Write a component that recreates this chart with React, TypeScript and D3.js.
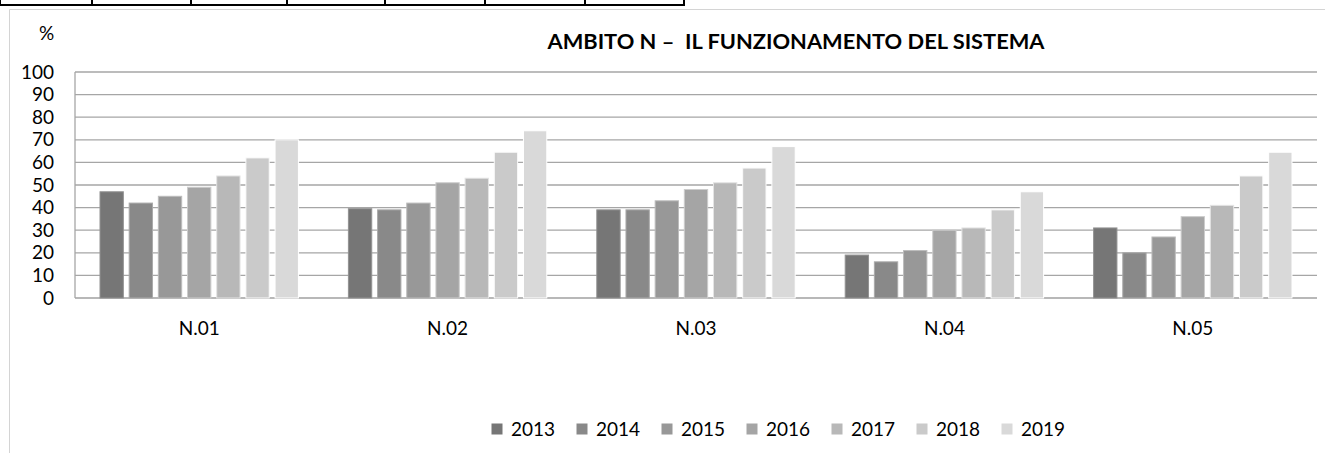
import React from "react";
import * as d3 from "d3";

const categories = ["N.01", "N.02", "N.03", "N.04", "N.05"];
const years = ["2013", "2014", "2015", "2016", "2017", "2018", "2019"];
const v2013 = [47, 39.5, 39, 19, 31];
const v2014 = [42, 39, 39, 16, 20];
const v2015 = [45, 42, 43, 21, 27];
const v2016 = [49, 51, 48, 30, 36];
const v2017 = [54, 53, 51, 31, 41];
const v2018 = [62, 64.5, 57.5, 39, 54];
const v2019 = [70, 74, 67, 47, 64.5];
const seriesValues = [v2013, v2014, v2015, v2016, v2017, v2018, v2019];
const yTicks = [0, 10, 20, 30, 40, 50, 60, 70, 80, 90, 100];
const colors = ["#767676", "#898989", "#989898", "#a5a5a5", "#b8b8b8", "#cacaca", "#d9d9d9"];
const tableCols = [0, 92, 191, 287, 385, 485, 585, 684];
const title = "AMBITO N \u2013 \u00a0IL FUNZIONAMENTO DEL SISTEMA";

const W = 1325;
const H = 453;
const FONT = "Lato, 'Open Sans', sans-serif";

export default function App() {
  const left = 75;
  const right = 1317;
  const top = 72;
  const bottom = 298;

  const x0 = d3.scaleBand<string>().domain(categories).range([left, right]).padding(0);
  const gw = x0.bandwidth();
  const x1 = d3
    .scaleBand<string>()
    .domain(years)
    .range([25, gw - 25])
    .paddingInner(0.2)
    .paddingOuter(0);
  const y = d3.scaleLinear().domain([0, 100]).range([bottom, top]);

  return (
    <svg
      width={W}
      height={H}
      style={{ position: "fixed", left: 0, top: 0, background: "#fff" }}
      fontFamily={FONT}
    >
      {/* table remnant on top */}
      <line x1={0} x2={685} y1={5} y2={5} stroke="#000" strokeWidth={2} />
      {tableCols.map((cx, i) => (
        <line key={i} x1={cx} x2={cx} y1={0} y2={5} stroke="#000" strokeWidth={2} />
      ))}

      {/* chart frame */}
      <path d={`M9.5,${H} V9.5 H${W}`} fill="none" stroke="#d4d4d4" strokeWidth={1} />

      <text x={46.5} y={40} fontSize={19} textAnchor="middle" fill="#000">%</text>
      <text
        x={796}
        y={49}
        fontSize={20.5}
        fontWeight="bold"
        textAnchor="middle"
        fill="#000"
        textLength={497}
        lengthAdjust="spacingAndGlyphs"
      >
        {title}
      </text>

      {/* gridlines */}
      {yTicks.map((t) => (
        <line
          key={t}
          x1={left}
          x2={right}
          y1={y(t)}
          y2={y(t)}
          stroke={t === 0 ? "#a0a0a0" : "#a6a6a6"}
          strokeWidth={1.3}
        />
      ))}
      <line x1={left} x2={left} y1={top} y2={bottom} stroke="#a6a6a6" strokeWidth={1.3} />

      {/* y tick labels */}
      {yTicks.map((t) => (
        <text key={t} x={54} y={y(t) + 6.5} fontSize={19} textAnchor="end" fill="#000">
          {t}
        </text>
      ))}

      {/* bars */}
      {categories.map((c, ci) => (
        <g key={c} transform={`translate(${x0(c)},0)`}>
          {years.map((yr, si) => {
            const v = seriesValues[si][ci];
            return (
              <rect
                key={yr}
                x={x1(yr)}
                y={y(v)}
                width={x1.bandwidth()}
                height={y(0) - y(v)}
                fill={colors[si]}
                stroke={d3.color(colors[si])!.brighter(0.6).formatHex()}
                strokeWidth={1}
              />
            );
          })}
        </g>
      ))}

      {/* category labels */}
      {categories.map((c) => (
        <text
          key={c}
          x={(x0(c) as number) + gw / 2}
          y={334.5}
          fontSize={19}
          textAnchor="middle"
          fill="#000"
        >
          {c}
        </text>
      ))}

      {/* legend */}
      {years.map((yr, i) => (
        <g key={yr} transform={`translate(${491.5 + 85 * i},0)`}>
          <rect x={0} y={423.5} width={11} height={11} fill={colors[i]} />
          <text x={19.5} y={435.5} fontSize={19} fill="#000">
            {yr}
          </text>
        </g>
      ))}
    </svg>
  );
}
